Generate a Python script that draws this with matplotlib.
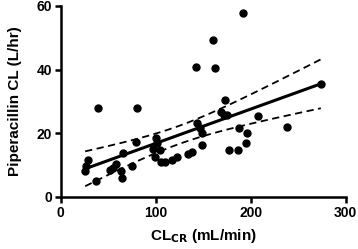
import matplotlib.pyplot as plt
import numpy as np

plt.rcParams['font.family'] = ['Liberation Sans', 'DejaVu Sans']
plt.rcParams['font.weight'] = 'bold'

# Creatinine clearance (mL/min) vs piperacillin clearance (L/hr)
crcl = [25.6, 26.5, 29, 36.6, 39.6, 52, 55, 58, 63.5, 64.8, 65.3, 74.5,
        79.5, 80.6, 97.5, 99, 100.5, 101.5, 104, 105, 109.8, 116.8, 122,
        133.6, 138.5, 142.4, 143.5, 146.5, 148.4, 148.4, 160.6, 162.4,
        169, 172, 173.2, 175.4, 177.5, 186.9, 188, 191.6, 195, 195.8,
        207.5, 237.9, 273.7]
pip_cl = [8.2, 9.6, 11.7, 5.1, 27.8, 8.4, 9.0, 10.5, 8.1, 5.9, 13.8, 9.7,
          17.2, 28.1, 15.2, 12.4, 18.5, 16.8, 14.6, 11.1, 11.1, 11.7, 12.6,
          13.4, 14.0, 40.7, 23.1, 21.8, 20.2, 16.3, 49.4, 40.4,
          26.8, 25.7, 30.6, 25.7, 14.8, 14.8, 21.8, 57.9, 16.8, 20.0,
          25.5, 22.1, 35.4]

x = np.array(crcl)
y = np.array(pip_cl)

# Linear regression with 95% confidence band
n = len(x)
slope, intercept = np.polyfit(x, y, 1)
xf = np.linspace(x.min(), x.max(), 200)
yf = intercept + slope * xf
resid = y - (intercept + slope * x)
s = np.sqrt(np.sum(resid ** 2) / (n - 2))
sxx = np.sum((x - x.mean()) ** 2)
t = 2.017
half = t * s * np.sqrt(1.0 / n + (xf - x.mean()) ** 2 / sxx)

fig = plt.figure(figsize=(3.58, 2.49), dpi=100)
ax = fig.add_axes([0.170, 0.209, 0.796, 0.767])

ax.plot(x, y, 'o', color='black', markersize=5, zorder=3)
ax.plot(xf, yf, '-', color='black', linewidth=2.2)
ax.plot(xf, yf + half, '--', color='black', linewidth=1.3, dashes=(4, 2.5))
ax.plot(xf, yf - half, '--', color='black', linewidth=1.3, dashes=(4, 2.5))

ax.set_xlim(0, 300)
ax.set_ylim(0, 60)
ax.set_xticks([0, 100, 200, 300])
ax.set_yticks([0, 20, 40, 60])
for side in ['top', 'right']:
    ax.spines[side].set_visible(False)
for side in ['left', 'bottom']:
    ax.spines[side].set_linewidth(1.8)
ax.tick_params(width=1.8, length=4, labelsize=10, pad=2.5)
for lab in ax.get_xticklabels() + ax.get_yticklabels():
    lab.set_fontweight('bold')

ax.set_xlabel('CL$_{\\mathbf{CR}}$ (mL/min)', fontsize=11, fontweight='bold', labelpad=5)
ax.set_ylabel('Piperacillin CL (L/hr)', fontsize=11, fontweight='bold', labelpad=10)

fig.savefig('out.png', dpi=100)
